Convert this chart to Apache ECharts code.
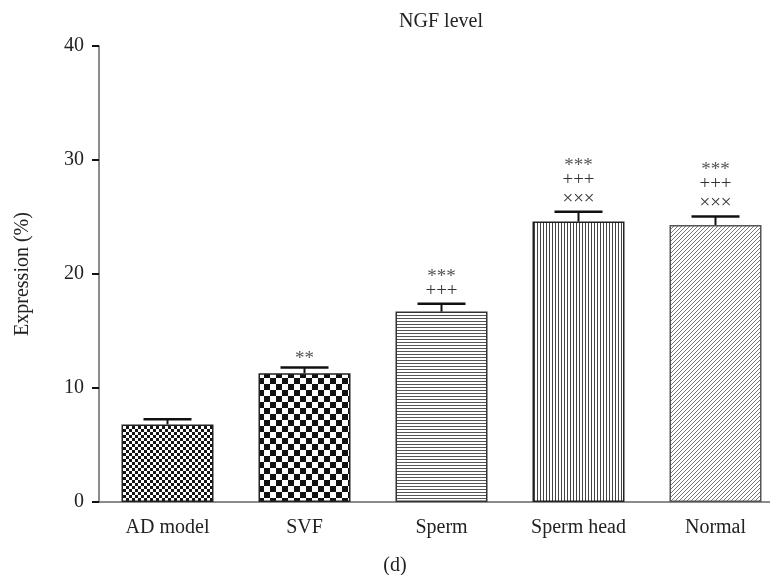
<!DOCTYPE html>
<html>
<head>
<meta charset="utf-8">
<script src="https://cdn.jsdelivr.net/npm/echarts@6/dist/echarts.min.js"></script>
<style>
html,body{margin:0;padding:0;background:#fff;overflow:hidden;width:770px;height:575px;}
#chart{width:784px;height:575px;}
</style>
</head>
<body>
<div id="chart"></div>
<script>
// ---- data ----
const categories = ['AD model', 'SVF', 'Sperm', 'Sperm head', 'Normal'];
const values = [6.8, 11.3, 16.7, 24.6, 24.3];
const errors = [0.45, 0.5, 0.7, 0.85, 0.75];
const sigStars = ['', '**', '***', '***', '***'];
const sigPlus = ['', '', '+++', '+++', '+++'];
const sigCross = ['', '', '', '×××', '×××'];
const yTicks = [0, 10, 20, 30, 40];
const titleText = 'NGF level';
const yName = 'Expression (%)';
const panelLabel = '(d)';

// ---- patterns ----
function makeCanvas(w, h, draw) {
  const c = document.createElement('canvas');
  c.width = w; c.height = h;
  const ctx = c.getContext('2d');
  ctx.fillStyle = '#fff';
  ctx.fillRect(0, 0, w, h);
  draw(ctx);
  return c;
}
const patFine = makeCanvas(6, 6, ctx => {
  ctx.fillStyle = '#151515';
  ctx.fillRect(0, 0, 3, 3);
  ctx.fillRect(3, 3, 3, 3);
});
const patCoarse = makeCanvas(12, 12, ctx => {
  ctx.fillStyle = '#111';
  ctx.fillRect(0, 0, 6, 6);
  ctx.fillRect(6, 6, 6, 6);
});
const patH = makeCanvas(3, 3, ctx => {
  ctx.fillStyle = '#555';
  ctx.fillRect(0, 0, 3, 1);
});
const patV = makeCanvas(3, 3, ctx => {
  ctx.fillStyle = '#444';
  ctx.fillRect(0, 0, 1, 3);
});
const patD = makeCanvas(4, 4, ctx => {
  ctx.fillStyle = '#777';
  ctx.fillRect(0, 3, 1, 1);
  ctx.fillRect(1, 2, 1, 1);
  ctx.fillRect(2, 1, 1, 1);
  ctx.fillRect(3, 0, 1, 1);
});
const patterns = [patFine, patCoarse, patH, patV, patD];
const borders = ['#222', '#222', '#333', '#222', '#555'];

const FONT = "'Liberation Serif', 'DejaVu Serif', serif";

const chart = echarts.init(document.getElementById('chart'), null, {renderer: 'canvas'});

const barData = values.map((v, i) => ({
  value: v,
  itemStyle: {
    color: {image: patterns[i], repeat: 'repeat'},
    borderColor: borders[i],
    borderWidth: 1.5
  }
}));

const errData = values.map((v, i) => [i, v, errors[i]]);

function renderErr(params, api) {
  const idx = api.value(0);
  const v = api.value(1);
  const e = api.value(2);
  const base = api.coord([idx, v]);
  const top = api.coord([idx, v + e]);
  const children = [
    {type: 'line', shape: {x1: base[0], y1: base[1], x2: top[0], y2: top[1]},
     style: {stroke: '#111', lineWidth: 2}},
    {type: 'line', shape: {x1: top[0] - 24, y1: top[1], x2: top[0] + 24, y2: top[1]},
     style: {stroke: '#111', lineWidth: 2.5}}
  ];
  let y = top[1] - 13;
  const lines = [sigCross[idx], sigPlus[idx], sigStars[idx]];
  lines.forEach(t => {
    if (!t) return;
    const isStar = t.indexOf('*') >= 0;
    children.push({
      type: 'text',
      style: {
        text: t, x: top[0], y: isStar ? y + 5 : y,
        align: 'center', verticalAlign: 'middle',
        font: '19px ' + FONT, fill: isStar ? '#555' : '#333'
      }
    });
    y -= isStar ? 16 : 19;
  });
  return {type: 'group', children: children};
}

const option = {
  animation: false,
  backgroundColor: '#fff',
  grid: {left: 99, top: 46, right: 0, bottom: 73, containLabel: false},
  graphic: [
    {type: 'text', x: 441, y: 22, style: {text: titleText, align: 'center', verticalAlign: 'middle',
      font: '20px ' + FONT, fill: '#222'}},
    {type: 'text', x: 395, y: 566, style: {text: panelLabel, align: 'center', verticalAlign: 'middle',
      font: '20px ' + FONT, fill: '#222'}}
  ],
  xAxis: {
    type: 'category',
    data: categories,
    axisLine: {lineStyle: {color: '#666', width: 1.5}},
    axisTick: {alignWithLabel: true, length: 6, lineStyle: {color: '#111', width: 2}},
    axisLabel: {fontFamily: FONT, fontSize: 20, color: '#222', margin: 16}
  },
  yAxis: {
    type: 'value',
    min: yTicks[0], max: yTicks[yTicks.length - 1], interval: 10,
    name: yName,
    nameLocation: 'middle',
    nameGap: 66,
    nameTextStyle: {fontFamily: FONT, fontSize: 20, color: '#222'},
    axisLine: {show: true, lineStyle: {color: '#666', width: 1.5}},
    axisTick: {show: true, length: 7, lineStyle: {color: '#111', width: 2}},
    axisLabel: {fontFamily: FONT, fontSize: 20, color: '#222', margin: 15},
    splitLine: {show: false}
  },
  series: [
    {type: 'bar', data: barData, barWidth: 92, z: 2},
    {type: 'custom', data: errData, renderItem: renderErr, z: 3, encode: {x: 0, y: 1}}
  ]
};
chart.setOption(option);
</script>
</body>
</html>
